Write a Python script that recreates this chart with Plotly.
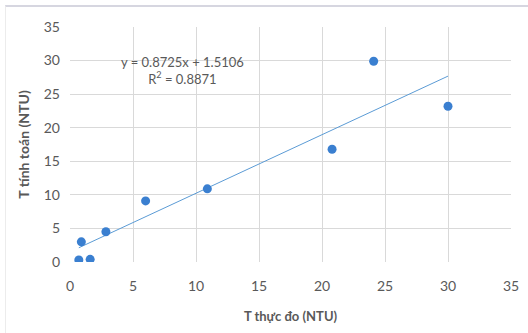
import plotly.graph_objects as go
import numpy as np

x_measured = [0.7, 1.6, 0.9, 2.85, 6.0, 10.9, 20.8, 24.1, 30.0]
y_calculated = [0.3, 0.4, 3.0, 4.5, 9.1, 10.9, 16.8, 29.9, 23.2]
slope = 0.8725
intercept = 1.5106
r2 = 0.8871
tick_vals = [0, 5, 10, 15, 20, 25, 30, 35]

x_line = np.array([min(x_measured), max(x_measured)])
y_line = slope * x_line + intercept

font_family = "Lato, 'Open Sans', sans-serif"
grey = "#595959"

fig = go.Figure()
fig.add_trace(go.Scatter(x=x_line, y=y_line, mode="lines",
                         line=dict(color="#5b9bd5", width=1), hoverinfo="skip"))
fig.add_trace(go.Scatter(x=x_measured, y=y_calculated, mode="markers",
                         marker=dict(size=9, color="#3a7fd0",
                                     line=dict(width=0))))

fig.add_annotation(x=0.255, y=0.815, xref="paper", yref="paper",
                   xanchor="center", yanchor="middle",
                   text=f"y = {slope}x + {intercept}<br>R<sup>2</sup> = {r2}",
                   showarrow=False, align="center",
                   font=dict(family=font_family, size=13, color=grey))

fig.update_layout(
    width=528, height=333,
    margin=dict(l=70, r=17, t=27, b=71, autoexpand=False),
    paper_bgcolor="white", plot_bgcolor="white",
    showlegend=False,
    font=dict(family=font_family, color=grey, size=14),
    xaxis=dict(range=[0, 35], tickvals=tick_vals, showgrid=True,
               gridcolor="#d9d9d9", gridwidth=1, zeroline=False,
               showline=False, ticks="", ticklabelstandoff=14,
               automargin=False,
               title=dict(text="<b>T thực đo (NTU)</b>", standoff=18,
                          font=dict(size=13, color=grey))),
    yaxis=dict(range=[0, 35], tickvals=tick_vals, showgrid=True,
               gridcolor="#d9d9d9", gridwidth=1, zeroline=False,
               showline=False, ticks="", ticklabelstandoff=9,
               automargin=False,
               title=dict(text="<b>T tính toán (NTU)</b>", standoff=10,
                          font=dict(size=14, color=grey))),
)

post = (
    "document.body.style.margin='0px';"
    "document.body.style.overflow='hidden';"
    "var d=document.createElement('div');"
    "d.style.cssText='position:absolute;left:5px;top:5px;width:540px;height:340px;"
    "border-top:2px solid #d6d6e0;border-left:1px solid #ececec;pointer-events:none;';"
    "document.body.appendChild(d);"
)
fig.write_html("out.html", config={"displayModeBar": False}, post_script=post)
